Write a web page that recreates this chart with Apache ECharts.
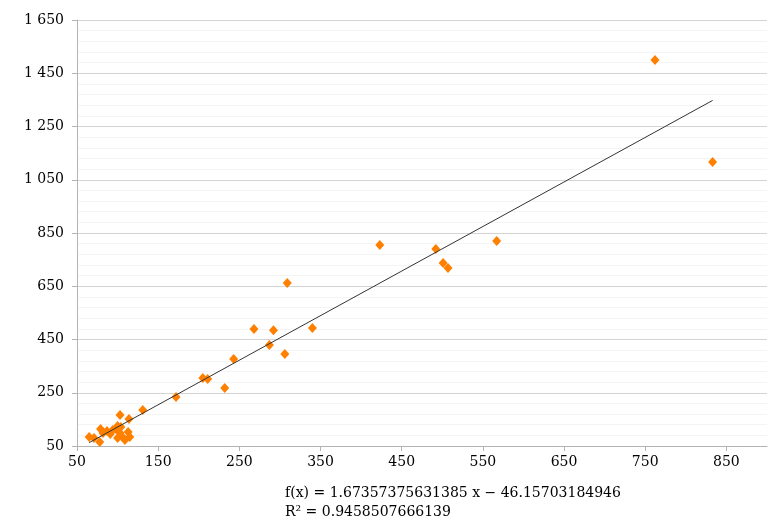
<!DOCTYPE html>
<html><head><meta charset="utf-8">
<script src="https://cdn.jsdelivr.net/npm/echarts@6/dist/echarts.min.js"></script>
<style>html,body{margin:0;padding:0;background:#fff}#c{width:784px;height:528px}</style>
</head><body><div id="c"></div>
<script>
var xValues = [65,71,78,79,82,87,91,94,98,100,100,103,104,106,109,113,115,114,103,131,172,232,205,211,243,306,287,268,292,340,309,423,492,501,507,567,762,833];
var yValues = [84,80,65,114,99,106,95,110,114,80,125,99,121,84,73,103,84,151,166,185,234,268,305,302,377,396,429,489,485,493,662,805,790,737,719,820,1500,1117];
var slope = 1.67357375631385, intercept = -46.15703184946;
var formulaText = 'f(x) = 1.67357375631385 x \u2212 46.15703184946';
var r2Text = 'R\u00b2 = 0.9458507666139';

var pts = xValues.map(function(x,i){return [x, yValues[i]];});
var xmin = Math.min.apply(null, xValues), xmax = Math.max.apply(null, xValues);
var trend = [[xmin, slope*xmin+intercept],[xmax, slope*xmax+intercept]];
function fmt(v){ return String(v).replace(/\B(?=(\d{3})+(?!\d))/g,' '); }
var font = 'DejaVu Serif';
var chart = echarts.init(document.getElementById('c'));
chart.setOption({
  animation:false,
  grid:{left:77,right:17,top:20,bottom:82},
  xAxis:{type:'value',min:50,max:900,interval:100,
    axisLine:{show:true,lineStyle:{color:'#b3b3b3'}},
    axisTick:{show:true,length:5,lineStyle:{color:'#b3b3b3'}},
    splitLine:{show:false},
    axisLabel:{fontFamily:font,fontSize:14,color:'#000',margin:9,showMaxLabel:false,formatter:fmt}},
  yAxis:{type:'value',min:50,max:1650,interval:200,
    axisLine:{show:true,lineStyle:{color:'#b3b3b3'}},
    axisTick:{show:true,length:5,lineStyle:{color:'#b3b3b3'}},
    splitLine:{show:true,lineStyle:{color:'#d4d4d4'}},
    minorTick:{show:false,splitNumber:5},
    minorSplitLine:{show:true,lineStyle:{color:'#f4f4f4'}},
    axisLabel:{fontFamily:font,fontSize:14,color:'#000',margin:13,formatter:fmt}},
  series:[
    {type:'line',data:trend,symbol:'none',lineStyle:{color:'#333',width:1},z:3},
    {type:'scatter',data:pts,symbol:'diamond',symbolSize:[9,10],itemStyle:{color:'#ff8000',opacity:1},z:2}
  ],
  graphic:[
    {type:'text',left:285,top:486,style:{text:formulaText,font:'14px "DejaVu Serif"',fill:'#000'}},
    {type:'text',left:285,top:505,style:{text:r2Text,font:'14px "DejaVu Serif"',fill:'#000'}}
  ]
});
</script></body></html>
